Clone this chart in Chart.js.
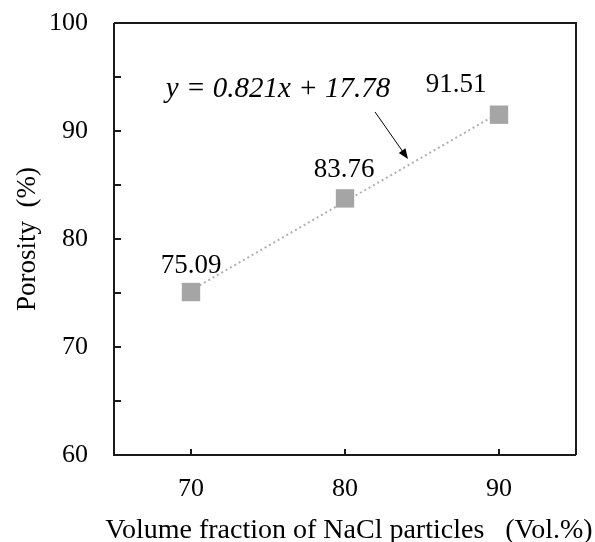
<!DOCTYPE html>
<html>
<head>
<meta charset="utf-8">
<script src="https://cdn.jsdelivr.net/npm/chart.js@4"></script>
<style>
html,body{margin:0;padding:0;background:#fff;}
#wrap{width:595px;height:542px;}
</style>
</head>
<body>
<div id="wrap"><canvas id="c" width="595" height="542"></canvas></div>
<script>
const xValues = [70, 80, 90];
const porosity = [75.09, 83.76, 91.51];
const pointLabels = ['75.09', '83.76', '91.51'];
const trendX = [70, 90];
const trendY = [75.25, 91.67];
const xTicks = [70, 80, 90];
const yTicks = [60, 70, 80, 90, 100];
const equationText = 'y = 0.821x + 17.78';
const xTitle = 'Volume fraction of NaCl particles   (Vol.%)';

const FONT = '"Liberation Serif", "Times New Roman", serif';

const decor = {
  id: 'decor',
  afterDatasetsDraw(chart) {
    const ctx = chart.ctx;
    const xs = chart.scales.x, ys = chart.scales.y;
    const a = chart.chartArea;
    ctx.save();
    // inward ticks
    ctx.strokeStyle = '#1a1a1a';
    ctx.lineWidth = 2;
    ys.ticks.forEach(t => {
      const py = Math.round(ys.getPixelForValue(t.value));
      ctx.beginPath(); ctx.moveTo(a.left, py); ctx.lineTo(a.left + 7, py); ctx.stroke();
    });
    xs.ticks.forEach(t => {
      const px = Math.round(xs.getPixelForValue(t.value));
      ctx.beginPath(); ctx.moveTo(px, a.bottom); ctx.lineTo(px, a.bottom - 6); ctx.stroke();
    });
    // box
    ctx.beginPath();
    ctx.moveTo(a.left, a.top); ctx.lineTo(a.right, a.top); ctx.lineTo(a.right, a.bottom);
    ctx.moveTo(a.left, a.top); ctx.lineTo(a.left, a.bottom); ctx.lineTo(a.right, a.bottom);
    ctx.stroke();
    // x axis title (drawn here so it may extend past the scale width)
    ctx.fillStyle = '#000';
    ctx.font = '28px ' + FONT;
    ctx.textAlign = 'center';
    ctx.textBaseline = 'alphabetic';
    ctx.fillText(xTitle, (a.left + a.right) / 2 + 4, a.bottom + 83);
    // point labels
    ctx.font = '27px ' + FONT;
    const offs = [[0, -19], [-1, -21], [-43, -23]];
    porosity.forEach((v, i) => {
      const px = xs.getPixelForValue(xValues[i]);
      const py = ys.getPixelForValue(v);
      ctx.fillText(pointLabels[i], px + offs[i][0], py + offs[i][1]);
    });
    // equation
    ctx.font = 'italic 29px ' + FONT;
    ctx.fillText(equationText, xs.getPixelForValue(75.65), ys.getPixelForValue(93.15));
    // arrow
    const x1 = xs.getPixelForValue(81.95), y1 = ys.getPixelForValue(91.76);
    const x2 = xs.getPixelForValue(84.09), y2 = ys.getPixelForValue(87.41);
    ctx.strokeStyle = '#000';
    ctx.lineWidth = 1;
    const ang = Math.atan2(y2 - y1, x2 - x1);
    const hl = 11;
    ctx.beginPath();
    ctx.moveTo(x1, y1);
    ctx.lineTo(x2 - Math.cos(ang) * hl * 0.8, y2 - Math.sin(ang) * hl * 0.8);
    ctx.stroke();
    ctx.beginPath();
    ctx.moveTo(x2, y2);
    ctx.lineTo(x2 - hl * Math.cos(ang - 0.38), y2 - hl * Math.sin(ang - 0.38));
    ctx.lineTo(x2 - hl * Math.cos(ang + 0.38), y2 - hl * Math.sin(ang + 0.38));
    ctx.closePath();
    ctx.fillStyle = '#000';
    ctx.fill();
    ctx.restore();
  }
};

new Chart(document.getElementById('c'), {
  type: 'scatter',
  data: {
    datasets: [
      {
        label: 'trend',
        data: trendX.map((x, i) => ({x: x, y: trendY[i]})),
        showLine: true,
        borderColor: '#b0b0b0',
        borderWidth: 2,
        borderDash: [2, 3],
        pointRadius: 0,
        fill: false,
        order: 2
      },
      {
        label: 'Porosity',
        data: xValues.map((x, i) => ({x: x, y: porosity[i]})),
        pointStyle: 'rect',
        pointRadius: 13,
        pointHoverRadius: 13,
        backgroundColor: '#a5a5a5',
        borderColor: '#a5a5a5',
        borderWidth: 0,
        order: 1
      }
    ]
  },
  options: {
    responsive: false,
    animation: false,
    events: [],
    layout: {padding: {top: 23, right: 19, left: 0, bottom: 0}},
    plugins: {legend: {display: false}, tooltip: {enabled: false}},
    scales: {
      x: {
        type: 'linear', min: 65, max: 95,
        afterBuildTicks: s => { s.ticks = xTicks.map(v => ({value: v})); },
        afterFit: s => { s.height = 87; s.paddingLeft = 0; s.paddingRight = 0; },
        grid: {display: false, drawTicks: false},
        border: {display: false},
        ticks: {color: '#000', font: {family: FONT, size: 26}, padding: 19, maxRotation: 0, autoSkip: false},
        title: {display: false}
      },
      y: {
        type: 'linear', min: 60, max: 100,
        ticks: {stepSize: 5, color: '#000', font: {family: FONT, size: 26}, padding: 26,
          callback: v => (v % 10 === 0 ? String(v) : '')},
        afterFit: s => { s.width = 114; s.paddingTop = 0; s.paddingBottom = 0; },
        grid: {display: false, drawTicks: false},
        border: {display: false},
        title: {display: true, text: 'Porosity  (%)', color: '#000', font: {family: FONT, size: 27}, padding: {top: 12, bottom: 0}}
      }
    }
  },
  plugins: [decor]
});
</script>
</body>
</html>
